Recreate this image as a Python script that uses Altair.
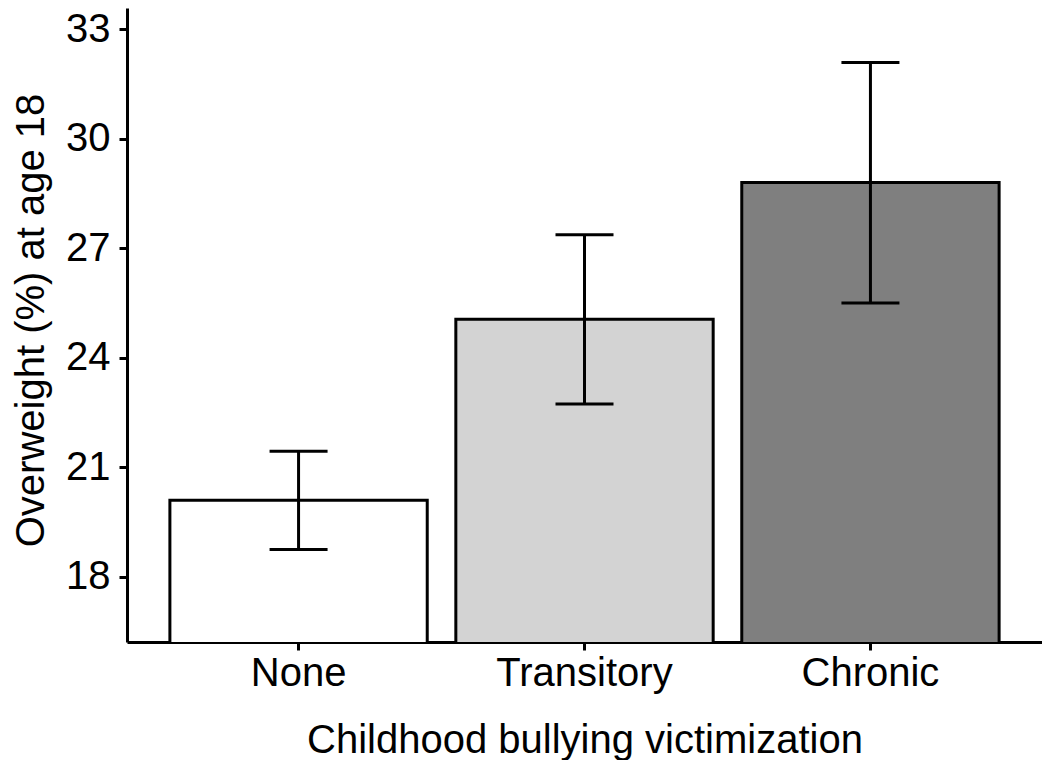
import altair as alt
import pandas as pd

categories = ["None", "Transitory", "Chronic"]
means = [20.10, 25.06, 28.80]
lower = [18.75, 22.74, 25.50]
upper = [21.44, 27.37, 32.09]
fills = ["#FFFFFF", "#D3D3D3", "#7F7F7F"]
y_ticks = [18, 21, 24, 27, 30, 33]

df = pd.DataFrame({"cat": categories, "mean": means, "lower": lower, "upper": upper})

FONT = "Liberation Sans"
PLOT_W = 915
PLOT_H = 634

x_enc = alt.X(
    "cat:N",
    sort=categories,
    scale=alt.Scale(paddingInner=0.1, paddingOuter=0.15),
    axis=alt.Axis(
        labelAngle=0, tickSize=8, tickWidth=3, tickColor="black",
        domainWidth=3, domainColor="black",
        labelFont=FONT, labelFontSize=40, labelColor="black",
        labelBaseline="alphabetic", labelPadding=35,
        title="Childhood bullying victimization",
        titleFont=FONT, titleFontSize=40, titleFontWeight="normal", titleColor="black",
        titleX=PLOT_W / 2, titleY=110, titleBaseline="alphabetic", titleAlign="center",
    ),
)

y_scale = alt.Scale(domain=[16.22, 33.58], nice=False, zero=False)

y_axis = alt.Axis(
    values=y_ticks, tickSize=8, tickWidth=3, tickColor="black",
    domainWidth=3, domainColor="black", grid=False,
    labelFont=FONT, labelFontSize=40, labelColor="black", labelPadding=9,
    title="Overweight (%) at age 18",
    titleFont=FONT, titleFontSize=40, titleFontWeight="normal", titleColor="black",
    titleX=-84, titleY=312, titleAngle=270, titleBaseline="alphabetic", titleAlign="center",
)

base = alt.Chart(df)

bars = base.mark_bar(stroke="black", strokeWidth=3, clip=True).encode(
    x=x_enc,
    y=alt.Y("mean:Q", scale=y_scale, axis=y_axis),
    color=alt.Color("cat:N", scale=alt.Scale(domain=categories, range=fills), legend=None),
)

rules = base.mark_rule(color="black", strokeWidth=3).encode(
    x=alt.X("cat:N", sort=categories),
    y=alt.Y("lower:Q"),
    y2="upper:Q",
)

cap_hi = base.mark_tick(color="black", thickness=3, size=58, opacity=1).encode(
    x=alt.X("cat:N", sort=categories),
    y=alt.Y("upper:Q"),
)
cap_lo = base.mark_tick(color="black", thickness=3, size=58, opacity=1).encode(
    x=alt.X("cat:N", sort=categories),
    y=alt.Y("lower:Q"),
)

chart = alt.layer(bars, rules, cap_hi, cap_lo).properties(
    width=PLOT_W, height=PLOT_H,
    autosize="none",
    padding={"left": 119, "top": 0, "right": 0, "bottom": 118},
    background="white",
).configure_view(strokeWidth=0)

chart.save("out.html", embed_options={"renderer": "svg", "actions": False})
